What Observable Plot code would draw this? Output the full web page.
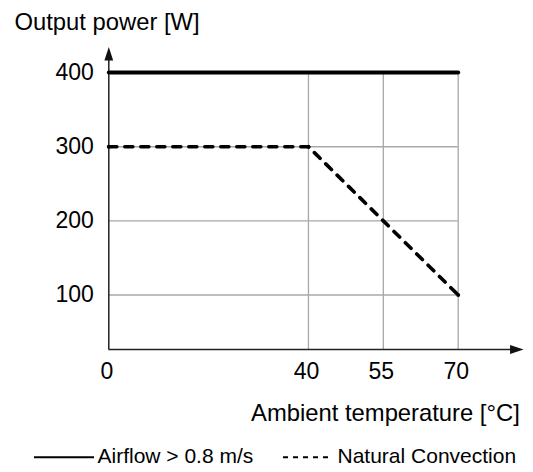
<!DOCTYPE html>
<html>
<head>
<meta charset="utf-8">
<script src="https://cdn.jsdelivr.net/npm/d3@7"></script>
<script src="https://cdn.jsdelivr.net/npm/@observablehq/plot@0.6"></script>
<style>
  html, body { margin: 0; padding: 0; background: white; }
  body { font-family: "Liberation Sans", Arial, sans-serif; width: 533px; }
  #legend { position: relative; height: 37px; width: 533px; }
  #legend .sw { position: absolute; top: 0; }
  #legend .lab { position: absolute; font-size: 21px; line-height: 21px; color: #000; white-space: nowrap; }
</style>
</head>
<body>
<div id="chart"></div>
<div id="legend"></div>
<script>
// ---- data ----
const seriesNames = ["Airflow > 0.8 m/s", "Natural Convection"];
const airflowTemp = [0, 70];
const airflowPower = [400, 400];
const naturalTemp = [0, 40, 70];
const naturalPower = [300, 300, 100];
const xTickValues = [0, 40, 55, 70];
const yTickValues = [100, 200, 300, 400];
const xGridValues = [40, 55, 70];
const yGridValues = [100, 200, 300];
const titleText = "Output power [W]";
const xLabelText = "Ambient temperature [°C]";

// axis extents (in data units)
const yMin = 26.5, yMax = 400, xMin = 0, xMax = 70;
const yArrowTip = 434.5, xArrowTip = 83.1;

const airflow = airflowTemp.map((t, i) => ({t, p: airflowPower[i]}));
const natural = naturalTemp.map((t, i) => ({t, p: naturalPower[i]}));

// narrow filled arrowhead, tip at origin pointing up
const arrowHead = {
  draw(ctx) {
    ctx.moveTo(0, 0);
    ctx.lineTo(4.4, 13.5);
    ctx.lineTo(-4.4, 13.5);
    ctx.closePath();
  }
};

const chart = Plot.plot({
  width: 533,
  height: 435,
  marginLeft: 108.3,
  marginRight: 75.3,
  marginTop: 72.1,
  marginBottom: 86,
  x: {domain: [xMin, xMax]},
  y: {domain: [yMin, yMax]},
  style: {fontFamily: "'Liberation Sans', Arial, sans-serif", fontSize: "23px", color: "#000", background: "white", overflow: "visible"},
  marks: [
    // grid
    Plot.ruleY(yGridValues, {x1: xMin, x2: xMax, stroke: "#a8a8a8", strokeWidth: 1.3}),
    Plot.ruleX(xGridValues, {y1: yMin, y2: yMax, stroke: "#a8a8a8", strokeWidth: 1.3}),
    // axes lines with arrows
    Plot.ruleX([xMin], {y1: yMin, y2: yArrowTip - 5, stroke: "#222", strokeWidth: 1.5}),
    Plot.ruleY([yMin], {x1: xMin, x2: xArrowTip - 1, stroke: "#222", strokeWidth: 1.5}),
    Plot.dot([{x: xMin, y: yArrowTip}], {x: "x", y: "y", symbol: arrowHead, fill: "#111", stroke: null}),
    Plot.dot([{x: xArrowTip, y: yMin}], {x: "x", y: "y", symbol: arrowHead, fill: "#111", stroke: null, rotate: 90}),
    // series
    Plot.line(airflow, {x: "t", y: "p", stroke: "#000", strokeWidth: 4}),
    Plot.line(natural, {x: "t", y: "p", stroke: "#000", strokeWidth: 3.6, strokeDasharray: "8,8"}),
    Plot.dot(natural, {x: "t", y: "p", r: 2, fill: "#000", stroke: null}),
    // tick labels
    Plot.axisX({ticks: xTickValues, tickSize: 0, tickPadding: 13, dx: -2, label: null, tickFormat: d => String(d), fontSize: 23}),
    Plot.axisY({ticks: yTickValues, tickSize: 0, tickPadding: 15, label: null, tickFormat: d => String(d), fontSize: 23}),
    // axis titles
    Plot.text([xLabelText], {frameAnchor: "bottom-right", textAnchor: "end", lineAnchor: "bottom", dx: 61.6, dy: 71.7, fontSize: 23.8, fill: "#000"}),
    Plot.text([titleText], {frameAnchor: "top-left", textAnchor: "start", lineAnchor: "bottom", dx: -94.3, dy: -43.1, fontSize: 23.8, fill: "#000"})
  ]
});
document.getElementById("chart").appendChild(chart);

// legend
const legend = document.getElementById("legend");
function swatch(left, width, dash) {
  const svg = d3.create("svg").attr("class", "sw").attr("width", width).attr("height", 37).style("left", left + "px");
  svg.append("line").attr("x1", 0).attr("x2", width).attr("y1", 22.3).attr("y2", 22.3)
    .attr("stroke", "#000").attr("stroke-width", 2).attr("stroke-dasharray", dash || null);
  legend.appendChild(svg.node());
}
function label(left, text) {
  const s = document.createElement("span");
  s.className = "lab";
  s.style.left = left + "px";
  s.style.top = "10.2px";
  s.textContent = text;
  legend.appendChild(s);
}
swatch(34, 60, null);
label(97.5, seriesNames[0]);
swatch(283, 47, "5,5");
label(337.5, seriesNames[1]);
</script>
</body>
</html>
